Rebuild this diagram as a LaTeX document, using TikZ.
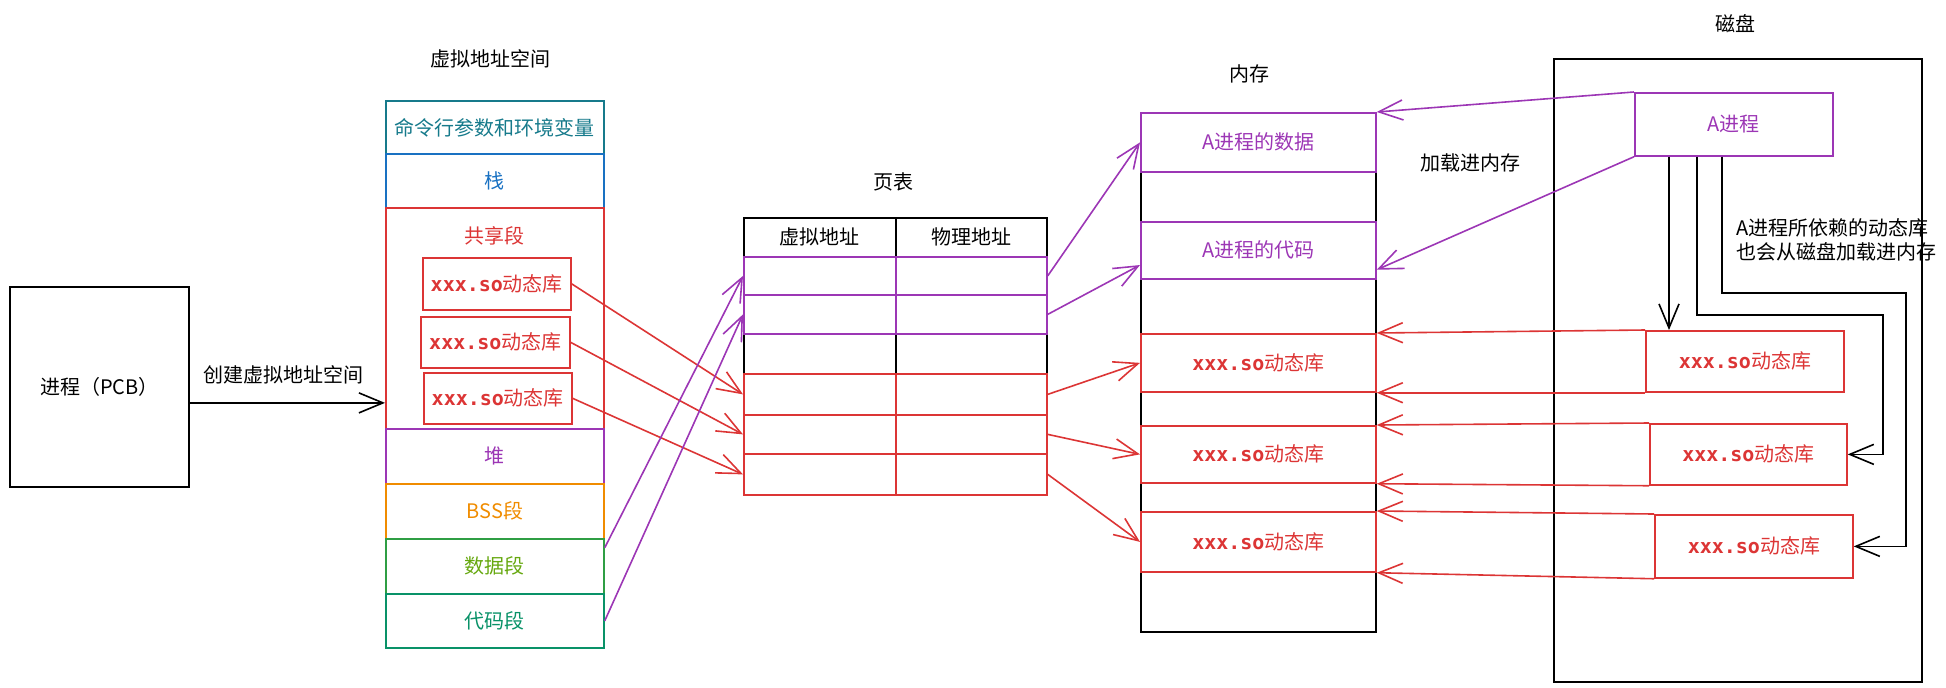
\documentclass[tikz,border=0pt]{standalone}
\usepackage{fontspec}
\setmainfont{Noto Sans CJK SC}
\newfontfamily\monof{DejaVu Sans Mono}
\usetikzlibrary{arrows.meta,calc}
\definecolor{ccmd}{HTML}{167A8B}
\definecolor{cstack}{HTML}{1971C2}
\definecolor{cred}{HTML}{DC3535}
\definecolor{cpur}{HTML}{9C36B5}
\definecolor{corg}{HTML}{F08C00}
\definecolor{cgrn}{HTML}{66A80F}
\definecolor{cgrnb}{HTML}{2F9E44}
\definecolor{ccode}{HTML}{099268}
\newcommand{\mybox}[7]{\node[#6, anchor=north west, minimum width={(#4-(#2))*0.75pt}, minimum height={(#5-(#3))*0.75pt}] (#1) at (#2,#3) {#7};}
\newcommand{\solib}{{\monof\bfseries xxx.so}动态库}
\begin{document}
\begin{tikzpicture}[x=0.75pt,y=-0.75pt,
  every node/.style={font=\fontsize{15}{18}\selectfont, inner sep=0pt},
  seg/.style={draw=#1, text=#1, line width=1.3pt},
  arr/.style={draw=#1, line width=1.2pt, -{Straight Barb[length=18pt,width=15pt]}},
  blk/.style={draw=black, line width=1.3pt}]
\useasboundingbox (0,0) rectangle (1946,687);

% process
\mybox{pcb}{9}{286}{188}{486}{blk}{进程（PCB）}

% titles
\node (tvas) at (490,59) {虚拟地址空间};
\node (tpt) at (893,182) {页表};
\node (tmem) at (1249,74) {内存};
\node (tdisk) at (1735,24) {磁盘};

% virtual address space
\mybox{cmd}{385}{100}{603}{153}{seg=ccmd}{命令行参数和环境变量}
\mybox{stack}{385}{153}{603}{207}{seg=cstack}{栈}
\mybox{shared}{385}{207}{603}{428}{seg=cred}{}
\node[text=cred] (tshared) at (494,236) {共享段};
\mybox{s1}{422}{257}{570}{309}{seg=cred}{\solib}
\mybox{s2}{420}{316}{569}{367}{seg=cred}{\solib}
\mybox{s3}{423}{372}{571}{423}{seg=cred}{\solib}
\mybox{heap}{385}{428}{603}{483}{seg=cpur}{堆}
\mybox{bss}{385}{483}{603}{538}{seg=corg}{BSS段}
\mybox{data}{385}{538}{603}{593}{draw=cgrnb,text=cgrn,line width=1.3pt}{数据段}
\mybox{code}{385}{593}{603}{647}{seg=ccode}{代码段}

\draw[arr=black] ([yshift=-12pt]pcb.east) coordinate (p0) -- (p0 -| shared.west);
\node (tcreate) at (283,375) {创建虚拟地址空间};

% page table
\mybox{h1}{743}{217}{895}{256}{blk}{虚拟地址}
\mybox{h2}{895}{217}{1046}{256}{blk}{物理地址}
\mybox{r3}{743}{333}{895}{373}{blk}{}
\mybox{q3}{895}{333}{1046}{373}{blk}{}
\mybox{r1}{743}{256}{895}{294}{seg=cpur}{}
\mybox{q1}{895}{256}{1046}{294}{seg=cpur}{}
\mybox{r2}{743}{294}{895}{333}{seg=cpur}{}
\mybox{q2}{895}{294}{1046}{333}{seg=cpur}{}
\mybox{r4}{743}{373}{895}{414}{seg=cred}{}
\mybox{q4}{895}{373}{1046}{414}{seg=cred}{}
\mybox{r5}{743}{414}{895}{453}{seg=cred}{}
\mybox{q5}{895}{414}{1046}{453}{seg=cred}{}
\mybox{r6}{743}{453}{895}{494}{seg=cred}{}
\mybox{q6}{895}{453}{1046}{494}{seg=cred}{}

% memory
\mybox{mem}{1140}{112}{1375}{631}{blk}{}
\mybox{mdata}{1140}{112}{1375}{171}{seg=cpur}{A进程的数据}
\mybox{mcode}{1140}{221}{1375}{278}{seg=cpur}{A进程的代码}
\mybox{mso1}{1140}{333}{1375}{391}{seg=cred}{\solib}
\mybox{mso2}{1140}{425}{1375}{482}{seg=cred}{\solib}
\mybox{mso3}{1140}{511}{1375}{571}{seg=cred}{\solib}

% disk
\mybox{disk}{1553}{58}{1921}{681}{blk}{}
\mybox{aproc}{1634}{92}{1832}{155}{seg=cpur}{A进程}
\mybox{d1}{1645}{330}{1843}{391}{seg=cred}{\solib}
\mybox{d2}{1649}{423}{1846}{484}{seg=cred}{\solib}
\mybox{d3}{1654}{514}{1852}{577}{seg=cred}{\solib}
\node (tload) at (1470,163) {加载进内存};
\node[anchor=west, align=left, font=\fontsize{15}{18}\selectfont] (tdep) at (1736,240) {A进程所依赖的动态库\\也会从磁盘加载进内存};

% VAS -> page table
\draw[arr=cred] (s1.east) -- (r4.west);
\draw[arr=cred] (s2.east) -- (r5.west);
\draw[arr=cred] (s3.east) -- (r6.west);
\draw[arr=cpur] ([yshift=14pt]data.east) -- (r1.west);
\draw[arr=cpur] (code.east) -- (r2.west);

% page table -> memory
\draw[arr=cpur] (q1.east) -- (mdata.west);
\draw[arr=cpur] (q2.east) -- ([yshift=-11pt]mcode.west);
\draw[arr=cred] (q4.east) -- (mso1.west);
\draw[arr=cred] (q5.east) -- (mso2.west);
\draw[arr=cred] (q6.east) -- (mso3.west);

% disk -> memory
\draw[arr=cpur] (aproc.north west) -- (mdata.north east);
\draw[arr=cpur] (aproc.south west) -- ([yshift=7.5pt]mcode.south east);
\draw[arr=cred] (d1.north west) -- (mso1.north east);
\draw[arr=cred] (d1.south west) -- (mso1.south east);
\draw[arr=cred] (d2.north west) -- (mso2.north east);
\draw[arr=cred] (d2.south west) -- (mso2.south east);
\draw[arr=cred] (d3.north west) -- (mso3.north east);
\draw[arr=cred] (d3.south west) -- (mso3.south east);

% A process -> its libraries on disk
\draw[arr=black] ([xshift=26.25pt]aproc.south west) coordinate (t1) -- (t1 |- d1.north);
\draw[arr=black] ([xshift=47.25pt]aproc.south west) -- ++(0,158) -- ++(186,0) |- (d2.east);
\draw[arr=black] ([xshift=66pt]aproc.south west) -- ++(0,136) -- ++(184,0) |- (d3.east);
\end{tikzpicture}
\end{document}
